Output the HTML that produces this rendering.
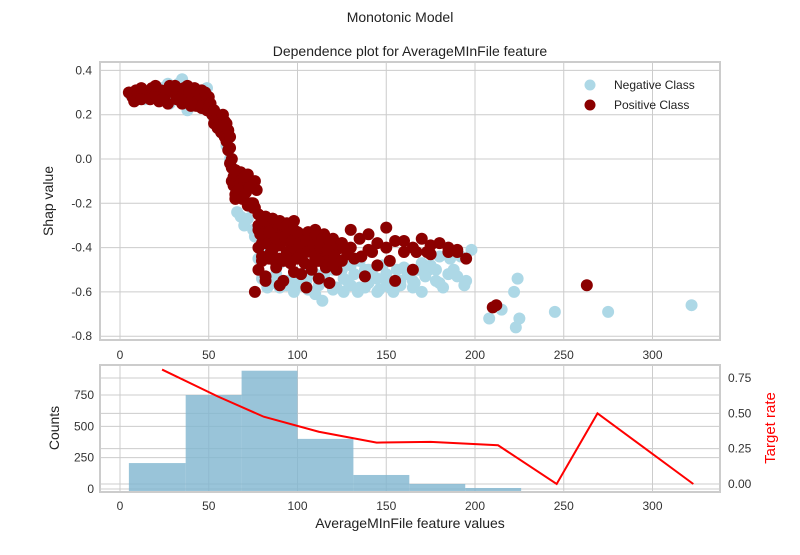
<!DOCTYPE html>
<html><head><meta charset="utf-8"><style>
body{margin:0;background:#fff}
svg{font-family:"Liberation Sans",Arial,sans-serif}
</style></head><body>
<svg id="c" width="800" height="550" xmlns="http://www.w3.org/2000/svg">
<text x="400" y="22" text-anchor="middle" font-size="14" fill="#222">Monotonic Model</text>
<text x="410" y="56" text-anchor="middle" font-size="14" fill="#222">Dependence plot for AverageMInFile feature</text>
<text transform="translate(53,201) rotate(-90)" text-anchor="middle" font-size="14" fill="#222">Shap value</text>
<text transform="translate(59,428) rotate(-90)" text-anchor="middle" font-size="14" fill="#222">Counts</text>
<text transform="translate(775,428) rotate(-90)" text-anchor="middle" font-size="15" fill="#ff0000">Target rate</text>
<text x="410" y="528" text-anchor="middle" font-size="14" fill="#222">AverageMInFile feature values</text>
<g id="topG"></g><g id="botG"></g>
<g>
<circle cx="590" cy="85" r="5.5" fill="#add8e6"/>
<text x="614" y="89" font-size="12" fill="#222">Negative Class</text>
<circle cx="590" cy="105" r="5.5" fill="#8b0000"/>
<text x="614" y="109" font-size="12" fill="#222">Positive Class</text>
</g>
</svg>
<script>
const xTicks=[0,50,100,150,200,250,300];
const yTicks=[0.4,0.2,0.0,-0.2,-0.4,-0.6,-0.8];
const countTicks=[0,250,500,750];
const rateTicks=[0.00,0.25,0.50,0.75];
const negX=[6,10,14,19,24,28,33,38,42,47,51,54,57,60,62,64,66,68,70,72,74,76,78,80,83,86,90,94,98,102,106,110,114,118,122,126,130,134,138,142,146,150,154,158,162,166,170,174,178,182,186,190,194,198,130,140,150,160,170,180,110,120,100,90,85,95,105,115,125,135,145,155,165,175,185,208,215,222,224,223,225,245,275,322,27,35,44,49,56,66,75,82,
100,105,112,120,128,135,140,145,152,158,165,172,180,188,195,132,138,148,156,168,178,192,82,88,94,126,115,108];
const negY=[0.29,0.30,0.27,0.31,0.32,0.25,0.34,0.22,0.29,0.24,0.21,0.18,0.12,0.06,0.0,-0.08,-0.16,-0.26,-0.30,-0.27,-0.22,-0.35,-0.45,-0.54,-0.58,-0.56,-0.58,-0.55,-0.60,-0.57,-0.59,-0.61,-0.64,-0.56,-0.58,-0.54,-0.57,-0.60,-0.58,-0.52,-0.59,-0.55,-0.60,-0.57,-0.52,-0.56,-0.60,-0.50,-0.55,-0.58,-0.45,-0.53,-0.57,-0.41,-0.48,-0.50,-0.52,-0.49,-0.47,-0.44,-0.52,-0.50,-0.52,-0.47,-0.42,-0.55,-0.50,-0.53,-0.50,-0.46,-0.54,-0.58,-0.55,-0.48,-0.52,-0.72,-0.68,-0.60,-0.54,-0.76,-0.72,-0.69,-0.69,-0.66,0.34,0.36,0.31,0.32,0.20,-0.24,-0.32,-0.40,
-0.56,-0.55,-0.57,-0.59,-0.55,-0.58,-0.56,-0.60,-0.58,-0.55,-0.58,-0.53,-0.56,-0.50,-0.55,-0.52,-0.50,-0.48,-0.50,-0.50,-0.50,-0.44,-0.55,-0.52,-0.57,-0.60,-0.52,-0.50];
const posX=[5,7,9,10,12,14,15,17,18,20,22,23,25,27,28,30,32,33,35,36,38,40,41,43,44,46,47,49,50,51,52,53,54,55,56,57,58,59,59,60,61,62,62,63,63,64,64,63,65,66,67,68,70,72,74,76,65,70,75,78,77,75,80,78,82,84,86,88,90,92,94,96,98,100,80,85,90,95,100,105,110,115,120,80,85,90,95,100,105,110,115,120,125,78,88,98,108,118,82,92,102,112,122,125,130,135,140,145,150,155,160,165,170,175,180,185,190,195,130,140,150,160,175,185,145,155,165,138,152,90,105,118,82,76,210,212,263,167,173,190,
78,82,86,90,94,98,102,106,110,114,118,78,82,86,90,94,98,102,106,110,114,118,122,80,84,88,92,96,100,104,108,112,116,120,79,84,88,93,97,101,105,109,113,117,121,125,126,128,132,136,142,
8,12,20,26,31,36,39,42,45,48,24,34,40,46,50,53,58,60,61,62,65,67,69,71,73,74,76,72,70];
const posY=[0.30,0.28,0.31,0.29,0.32,0.28,0.30,0.27,0.32,0.29,0.26,0.31,0.28,0.25,0.33,0.30,0.27,0.31,0.25,0.29,0.33,0.27,0.30,0.24,0.28,0.31,0.26,0.22,0.28,0.25,0.20,0.16,0.19,0.14,0.18,0.12,0.15,0.10,0.17,0.08,0.13,0.05,0.10,0.0,-0.04,-0.08,-0.12,-0.10,-0.16,-0.08,-0.12,-0.06,-0.10,-0.07,-0.12,-0.10,-0.18,-0.16,-0.20,-0.25,-0.14,-0.22,-0.28,-0.32,-0.26,-0.30,-0.27,-0.31,-0.28,-0.33,-0.29,-0.32,-0.28,-0.33,-0.38,-0.36,-0.35,-0.37,-0.36,-0.35,-0.32,-0.34,-0.36,-0.44,-0.42,-0.45,-0.43,-0.44,-0.42,-0.45,-0.43,-0.40,-0.38,-0.50,-0.49,-0.51,-0.50,-0.48,-0.53,-0.55,-0.52,-0.54,-0.50,-0.38,-0.40,-0.36,-0.41,-0.38,-0.40,-0.37,-0.42,-0.40,-0.36,-0.43,-0.38,-0.40,-0.41,-0.45,-0.32,-0.34,-0.31,-0.37,-0.39,-0.42,-0.48,-0.55,-0.50,-0.53,-0.46,-0.57,-0.58,-0.56,-0.55,-0.60,-0.67,-0.66,-0.57,-0.42,-0.42,-0.42,
-0.30,-0.28,-0.27,-0.29,-0.30,-0.32,-0.34,-0.33,-0.35,-0.36,-0.38,-0.40,-0.38,-0.41,-0.39,-0.42,-0.40,-0.43,-0.41,-0.44,-0.42,-0.45,-0.41,-0.46,-0.45,-0.47,-0.46,-0.47,-0.45,-0.47,-0.48,-0.46,-0.49,-0.48,-0.34,-0.33,-0.36,-0.35,-0.37,-0.38,-0.37,-0.39,-0.40,-0.41,-0.44,-0.46,-0.40,-0.43,-0.45,-0.44,-0.42,
0.26,0.27,0.33,0.31,0.33,0.32,0.30,0.32,0.29,0.30,0.27,0.27,0.24,0.23,0.23,0.22,0.20,0.16,0.04,-0.02,-0.05,-0.14,-0.18,-0.15,-0.13,-0.20,-0.22,-0.21,-0.08];
const binEdges=[5,37,68.5,100,131.5,163,194.5,226];
const binCounts=[207,750,944,400,112,40,8];
const rateX=[23.7,55,81,112,144.6,175,213,246,269,323];
const rateY=[0.81,0.62,0.476,0.37,0.293,0.298,0.274,0,0.5,0];

const NS="http://www.w3.org/2000/svg";
function mk(t,a,p){const e=document.createElementNS(NS,t);for(const k in a)e.setAttribute(k,a[k]);p.appendChild(e);return e;}
const L=100,R=720,T1=62,B1=340,T2=365,B2=492;
const sx=v=>120+v*1.775;
const sy=v=>159-v*221.5;
const sc=v=>489-v*0.1253;
const sr=v=>484-v*141.3;
const topG=document.getElementById('topG'),botG=document.getElementById('botG');
xTicks.forEach(v=>{
 const g=mk('line',{x1:sx(v),x2:sx(v),y1:T1,y2:B1,stroke:'#cccccc','stroke-width':1},topG);
 
 const t=mk('text',{x:sx(v),y:B1+19,'text-anchor':'middle','font-size':12,fill:'#333'},topG);t.textContent=v;
 
});
yTicks.forEach(v=>{
 const g=mk('line',{x1:L,x2:R,y1:sy(v),y2:sy(v),stroke:'#cccccc','stroke-width':1},topG);
 
 const t=mk('text',{x:L-8,y:sy(v)+4,'text-anchor':'end','font-size':12,fill:'#333'},topG);t.textContent=v.toFixed(1);
 
});
negX.forEach((v,i)=>{const c=mk('circle',{cx:sx(v),cy:sy(negY[i]),r:6,fill:'#add8e6'},topG);
 });
posX.forEach((v,i)=>{const c=mk('circle',{cx:sx(v),cy:sy(posY[i]),r:6,fill:'#8b0000'},topG);
 });
let f=mk('rect',{x:L,y:T1,width:R-L,height:B1-T1,fill:'none',stroke:'#cccccc','stroke-width':2},topG);

xTicks.forEach(v=>{
 const g=mk('line',{x1:sx(v),x2:sx(v),y1:T2,y2:B2,stroke:'#cccccc','stroke-width':1},botG);
 
 const t=mk('text',{x:sx(v),y:B2+18,'text-anchor':'middle','font-size':12,fill:'#333'},botG);t.textContent=v;
 
});
countTicks.forEach(v=>{
 const g=mk('line',{x1:L,x2:R,y1:sc(v),y2:sc(v),stroke:'#cccccc','stroke-width':1},botG);
 
 const t=mk('text',{x:L-6,y:sc(v)+4,'text-anchor':'end','font-size':12,fill:'#333'},botG);t.textContent=v;
 
});
rateTicks.forEach(v=>{
 const g=mk('line',{x1:L,x2:R,y1:sr(v),y2:sr(v),stroke:'#cccccc','stroke-width':1},botG);
 
 const t=mk('text',{x:R+8,y:sr(v)+4,'text-anchor':'start','font-size':12,fill:'#333'},botG);t.textContent=v.toFixed(2);
 
});
binCounts.forEach((c,i)=>{
 const x0=sx(binEdges[i]),x1=sx(binEdges[i+1]);
 const r=mk('rect',{x:x0,y:sc(c),width:x1-x0,height:sc(0)-sc(c)+3,fill:'#7fb5d0','fill-opacity':0.8},botG);
 
});
const pl=mk('polyline',{points:rateX.map((v,i)=>sx(v)+','+sr(rateY[i])).join(' '),fill:'none',stroke:'#ff0000','stroke-width':2},botG);

f=mk('rect',{x:L,y:T2,width:R-L,height:B2-T2,fill:'none',stroke:'#cccccc','stroke-width':2},botG);

</script>
</body></html>
